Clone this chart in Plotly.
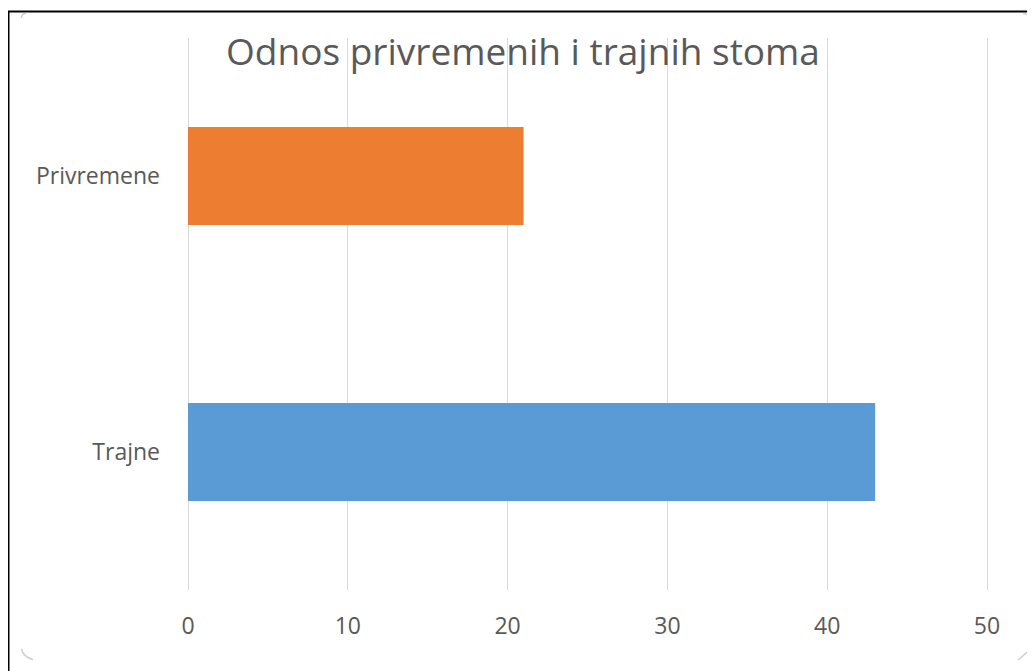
import plotly.graph_objects as go

categories = ["Trajne", "Privremene"]
values = [43, 21]
colors = ["#5B9BD5", "#ED7D31"]
x_ticks = [0, 10, 20, 30, 40, 50]
title_text = "Odnos privremenih i trajnih stoma"

# page body has an 8px margin, so the figure is sized/placed accordingly
OFF = 8
PAD = 2  # extra px each side so the edge gridlines at 0 and 50 are drawn
W, H = 1035 - OFF, 671 - OFF
L, R, T, B = 188 - OFF - PAD, 1035 - 987 - PAD, 38 - OFF, 671 - 590
pw, ph = W - L - R, H - T - B
unit = (pw - 2 * PAD) / 50.0
pad_u = PAD / unit

def px(x):  # reference-screen x -> paper
    return (x - OFF - L) / pw

def py(y):  # reference-screen y -> paper
    return (H - B - (y - OFF)) / ph

fig = go.Figure()
fig.add_trace(go.Bar(
    y=categories, x=values, orientation="h",
    marker=dict(color=colors, line=dict(width=0)),
    width=0.355, hoverinfo="x+y",
))

frame = f"M {px(8.5)} {py(680)} L {px(8.5)} {py(11.5)} L {px(1045)} {py(11.5)}"
corners = [
    f"M {px(21.5)} {py(18)} Q {px(21.5)} {py(13.5)} {px(26)} {py(13.5)}",
    f"M {px(21.5)} {py(649)} Q {px(23)} {py(657)} {px(33)} {py(659.5)}",
    f"M {px(1018)} {py(660)} L {px(1033)} {py(647)}",
    f"M {px(1023)} {py(13.5)} Q {px(1030)} {py(14)} {px(1033)} {py(20)}",
]

shapes = [dict(type="path", path=frame, xref="paper", yref="paper",
               line=dict(color="black", width=2))]
for c in corners:
    shapes.append(dict(type="path", path=c, xref="paper", yref="paper",
                       line=dict(color="#d0d0d0", width=1.5)))

fig.update_layout(
    width=W, height=H,
    margin=dict(l=L, r=R, t=T, b=B),
    paper_bgcolor="white", plot_bgcolor="white",
    showlegend=False,
    font=dict(family="Open Sans, Segoe UI, sans-serif", color="#595959"),
    title=dict(text=title_text, x=(523 - OFF) / W, xanchor="center",
               y=1 - (52 - OFF) / H, yanchor="middle", yref="container",
               font=dict(size=37, color="#595959")),
    xaxis=dict(range=[-pad_u, 50 + pad_u], tickvals=x_ticks, showgrid=True,
               gridcolor="#d9d9d9", gridwidth=1, zeroline=False,
               showline=False, ticks="", tickfont=dict(size=23, color="#595959"),
               ticklabelstandoff=20),
    yaxis=dict(showgrid=False, zeroline=False, showline=False, ticks="",
               tickfont=dict(size=23, color="#595959"), ticklabelstandoff=27 - PAD,
               range=[-0.5, 1.5]),
    shapes=shapes,
)

fig.write_html("out.html")
